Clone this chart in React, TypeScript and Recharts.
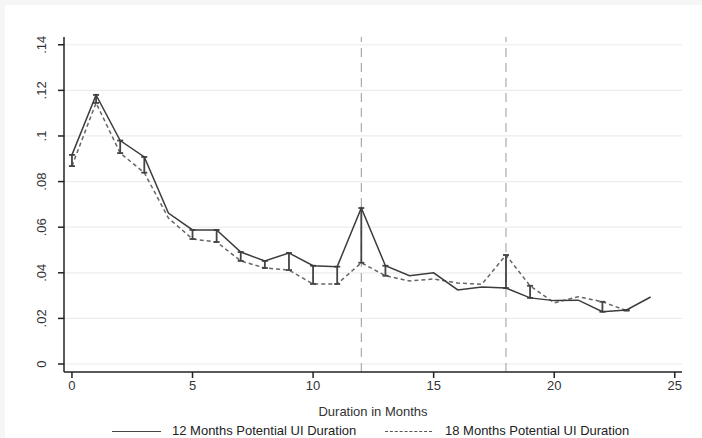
import { ComposedChart, Line, XAxis, YAxis, CartesianGrid, ReferenceLine, ErrorBar } from 'recharts'

const months = [0, 1, 2, 3, 4, 5, 6, 7, 8, 9, 10, 11, 12, 13, 14, 15, 16, 17, 18, 19, 20, 21, 22, 23, 24]
const potential12 = [0.0917, 0.118, 0.098, 0.0908, 0.0662, 0.0588, 0.0588, 0.0491, 0.0452, 0.0487, 0.0431, 0.0427, 0.0684, 0.0431, 0.0387, 0.040, 0.0325, 0.0338, 0.0333, 0.029, 0.0278, 0.028, 0.0229, 0.0237, 0.0294]
const potential18 = [0.0868, 0.1145, 0.0925, 0.0839, 0.064, 0.0548, 0.0535, 0.0452, 0.0421, 0.0412, 0.0351, 0.0351, 0.0444, 0.0387, 0.0364, 0.0373, 0.0355, 0.035, 0.0478, 0.0343, 0.0268, 0.0295, 0.0273, 0.0234, null]
// months where the gap between the two series is marked
const marked = [0, 1, 2, 3, 5, 6, 7, 8, 9, 10, 11, 12, 13, 18, 19, 22, 23]

const yTicks = [0, 0.02, 0.04, 0.06, 0.08, 0.1, 0.12, 0.14]
const xTicks = [0, 5, 10, 15, 20, 25]
const cutoffs = [12, 18]

const data = months.map((m, i) => {
  const a = potential12[i]
  const b = potential18[i]
  let gap: number[] | undefined
  if (b != null && marked.includes(m)) {
    gap = b < a ? [a - b, 0] : [0, b - a]
  }
  return { month: m, p12: a, p18: b, gap }
})

const font = '"Liberation Sans", Arial, sans-serif'

const fmtY = (v: number) => (v === 0 ? '0' : String(v).replace(/^0/, ''))

const YTick = ({ y, payload }: any) => (
  <text
    x={42}
    y={y}
    transform={`rotate(-90, 42, ${y})`}
    textAnchor="middle"
    dominantBaseline="central"
    fontSize={13}
    fill="#333"
    fontFamily={font}
  >
    {fmtY(payload.value)}
  </text>
)

export default function App() {
  return (
    <div style={{ position: 'absolute', left: 0, top: 0, width: 702, height: 438, background: '#f6f6f6' }}>
      <div style={{ position: 'absolute', left: 5, top: 5, width: 697, height: 433, background: '#fff' }} />
      <div style={{ position: 'absolute', left: 0, top: 0 }}>
        <ComposedChart width={702} height={438} data={data} margin={{ top: 37, right: 20, bottom: 16, left: 24 }}>
          <CartesianGrid vertical={false} horizontalValues={yTicks} stroke="#ececec" strokeWidth={1.2} />
          <XAxis
            dataKey="month"
            type="number"
            domain={[-0.33, 25.3]}
            ticks={xTicks}
            allowDataOverflow
            height={50}
            tickSize={6}
            tickMargin={3}
            stroke="#222"
            strokeWidth={1.5}
            tick={{ fontSize: 13, fill: '#333', fontFamily: font }}
            label={{ value: 'Duration in Months', position: 'insideBottom', offset: 6, fontSize: 13, fill: '#333', fontFamily: font }}
          />
          <YAxis
            type="number"
            domain={[-0.0035, 0.1434]}
            ticks={yTicks}
            allowDataOverflow
            width={40}
            tickSize={6}
            tickMargin={16}
            stroke="#222"
            strokeWidth={1.5}
            tick={<YTick />}
          />
          {cutoffs.map((c) => (
            <ReferenceLine key={c} x={c} stroke="#999" strokeDasharray="9 6" strokeWidth={1} />
          ))}
          <Line
            dataKey="p18"
            stroke="#666"
            strokeWidth={1.5}
            strokeDasharray="4 3"
            dot={false}
            isAnimationActive={false}
            connectNulls={false}
          />
          <Line dataKey="p12" stroke="#3c3c3c" strokeWidth={1.5} dot={false} isAnimationActive={false}>
            <ErrorBar dataKey="gap" direction="y" width={3} stroke="#444" strokeWidth={1.8} />
          </Line>
        </ComposedChart>
      </div>
      <div style={{ position: 'absolute', top: 423, left: 0, width: 702, height: 16, fontFamily: font, fontSize: 13, color: '#222' }}>
        <span style={{ position: 'absolute', left: 112, top: 8, width: 49, borderTop: '1.5px solid #444' }} />
        <span style={{ position: 'absolute', left: 172, top: 0, whiteSpace: 'nowrap' }}>12 Months Potential UI Duration</span>
        <span style={{ position: 'absolute', left: 385, top: 8, width: 47, borderTop: '1.5px dashed #555' }} />
        <span style={{ position: 'absolute', left: 445, top: 0, whiteSpace: 'nowrap' }}>18 Months Potential UI Duration</span>
      </div>
    </div>
  )
}
